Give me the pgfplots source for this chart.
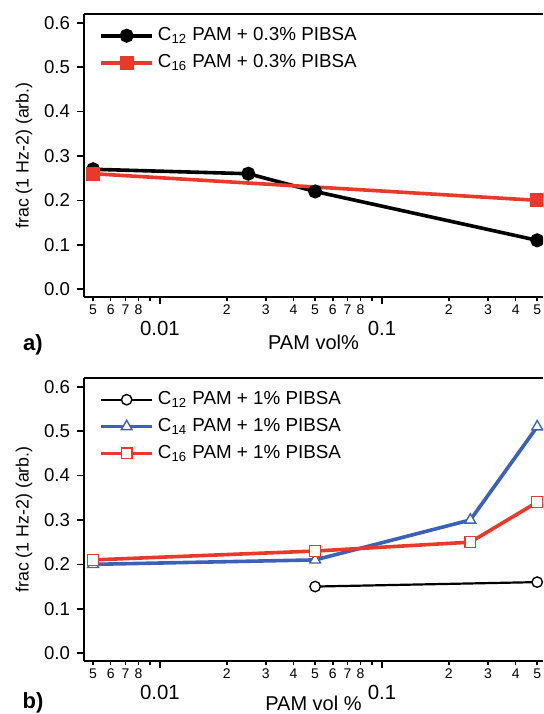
\documentclass[border=0pt]{standalone}
\usepackage{fontspec}
\setmainfont{Liberation Sans}
\usepackage{pgfplots}
\pgfplotsset{compat=1.18}
\definecolor{pred}{HTML}{E8392B}
\definecolor{pblue}{HTML}{3B62B8}

\pgfplotsset{
  every axis/.append style={
    scale only axis, width=229.5pt, height=141.2pt,
    axis x line*=box, axis y line*=left,
    axis line style={-, line width=0.9pt},
    tick align=outside, xtick pos=bottom, ytick pos=left,
    tick style={black, line width=0.8pt},
    major tick length=3.5pt, minor tick length=2.2pt,
    /pgf/number format/assume math mode=true,
    yticklabel style={/pgf/number format/fixed, /pgf/number format/fixed zerofill,
      /pgf/number format/precision=1, font=\fontsize{9.3}{10}\selectfont},
    xticklabel style={font=\fontsize{10.2}{11}\selectfont, yshift=-5.3pt},
    extra x tick style={major tick length=2.2pt,
      xticklabel style={font=\fontsize{7}{8}\selectfont, yshift=6.8pt}},
    legend style={draw=none, fill=none, at={(0,1)},
      anchor=north west, xshift=4.5pt, yshift=-4pt,
      font=\fontsize{9.4}{10}\selectfont,
      nodes={inner ysep=0pt, text height=7pt, text depth=2pt}},
    legend cell align=left,
    clip=false,
  },
  every axis x label/.style={at={(axis description cs:0.5,0)}, yshift=-23pt,
    anchor=center, font=\fontsize{10}{11}\selectfont},
  every axis y label/.style={at={(axis description cs:0,0.5)}, xshift=-30pt,
    rotate=90, anchor=center, font=\fontsize{8.9}{9}\selectfont},
  legend image code/.code={\draw[mark repeat=2,mark phase=2,#1]
    plot coordinates {(0pt,0pt) (12.75pt,0pt) (25.5pt,0pt)};},
}

\begin{document}
\begin{tikzpicture}
\useasboundingbox (0,0) rectangle (271.5pt,-357pt);
\clip (0,0) rectangle (271.5pt,-357pt);

% panel a
\begin{axis}[xmode=log, xmin=0.00455, xmax=0.531, ymin=-0.017, ymax=0.619,
  ytick={0,0.1,0.2,0.3,0.4,0.5,0.6},
  xtick={0.01,0.1}, xticklabels={0.01,0.1}, minor xtick={0.009,0.09},
  extra x ticks={0.005,0.006,0.007,0.008,0.02,0.03,0.04,0.05,0.06,0.07,0.08,0.2,0.3,0.4,0.5},
  extra x tick labels={5,6,7,8,2,3,4,5,6,7,8,2,3,4,5},
  at={(42pt,-148.35pt)}, anchor=south west,
  legend style={/tikz/row sep=4.5pt},
  xlabel={PAM vol\%}, ylabel={frac (1 Hz-2) (arb.)}]
\addplot[black, line width=1.8pt, mark=*, mark size=2.6pt]
  coordinates {(0.005,0.27) (0.025,0.26) (0.05,0.22) (0.5,0.11)};
\addlegendentry{C\textsubscript{12} PAM + 0.3\% PIBSA}
\addplot[pred, line width=1.8pt, mark=square*, mark size=2.6pt]
  coordinates {(0.005,0.26) (0.5,0.20)};
\addlegendentry{C\textsubscript{16} PAM + 0.3\% PIBSA}
\end{axis}

% panel b
\begin{axis}[xmode=log, xmin=0.00455, xmax=0.531, ymin=-0.017, ymax=0.619,
  ytick={0,0.1,0.2,0.3,0.4,0.5,0.6},
  xtick={0.01,0.1}, xticklabels={0.01,0.1}, minor xtick={0.009,0.09},
  extra x ticks={0.005,0.006,0.007,0.008,0.02,0.03,0.04,0.05,0.06,0.07,0.08,0.2,0.3,0.4,0.5},
  extra x tick labels={5,6,7,8,2,3,4,5,6,7,8,2,3,4,5},
  at={(42pt,-330.35pt)}, anchor=south west,
  legend style={/tikz/row sep=4.4pt},
  xlabel style={yshift=1.6pt},
  xlabel={PAM vol \%}, ylabel={frac (1 Hz-2) (arb.)}]
\addplot[black, line width=1.1pt, mark=*, mark size=2.6pt,
  mark options={fill=white, line width=0.7pt}]
  coordinates {(0.05,0.15) (0.5,0.16)};
\addlegendentry{C\textsubscript{12} PAM + 1\% PIBSA}
\addplot[pblue, line width=1.8pt, mark=triangle*, mark size=3.1pt,
  mark options={fill=white, line width=0.7pt}]
  coordinates {(0.005,0.20) (0.05,0.21) (0.25,0.30) (0.5,0.51)};
\addlegendentry{C\textsubscript{14} PAM + 1\% PIBSA}
\addplot[pred, line width=1.8pt, mark=square*, mark size=2.7pt,
  mark options={fill=white, line width=0.7pt}]
  coordinates {(0.005,0.21) (0.05,0.23) (0.25,0.25) (0.5,0.34)};
\addlegendentry{C\textsubscript{16} PAM + 1\% PIBSA}
\end{axis}

\node[font=\bfseries\fontsize{11}{12}\selectfont] at (16.5pt,-172.5pt) {a)};
\node[font=\bfseries\fontsize{11}{12}\selectfont] at (16.5pt,-351.2pt) {b)};
\end{tikzpicture}
\end{document}
